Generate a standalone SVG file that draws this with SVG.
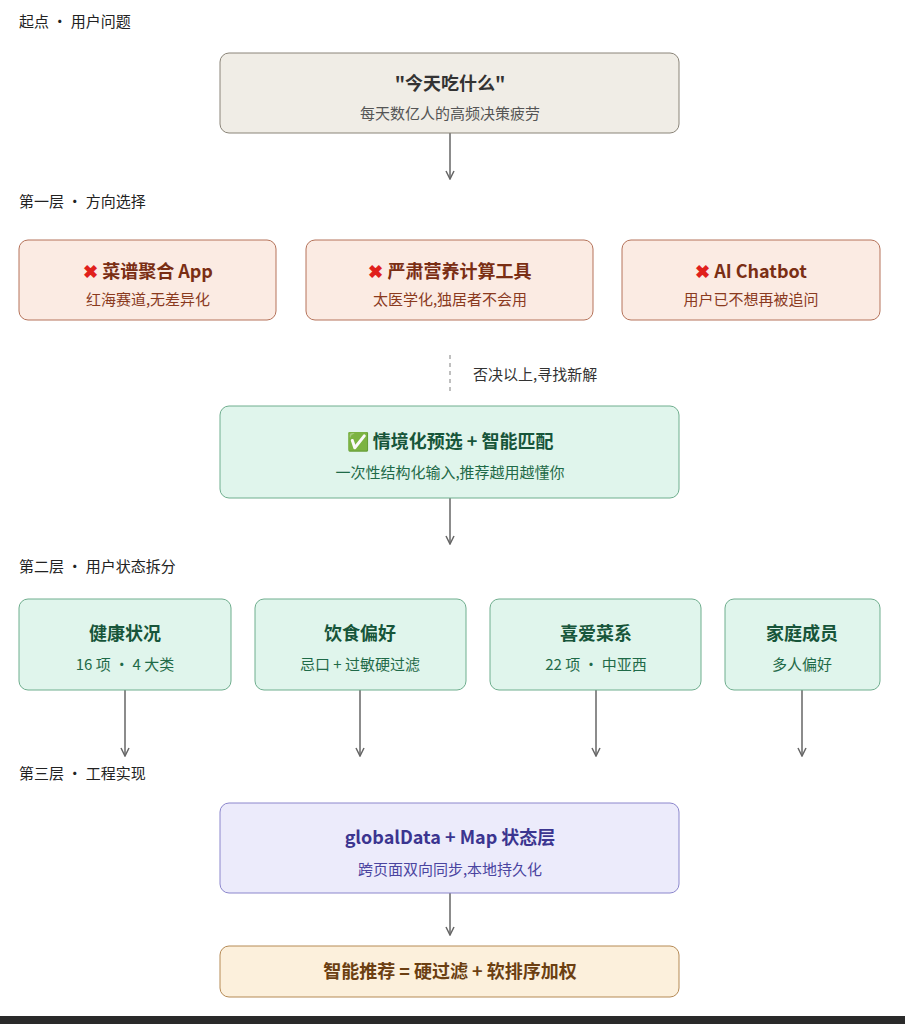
<svg xmlns="http://www.w3.org/2000/svg" width="905" height="1024" viewBox="0 0 905 1024">
<style>
text{font-family:"Noto Sans CJK SC","Noto Sans",sans-serif}
.sec{font-size:15px;fill:#222}
.t{font-size:18px;font-weight:bold;text-anchor:middle}
.s{font-size:15px;text-anchor:middle}
.gray rect{fill:#f0ede6;stroke:#8a8478}
.red rect{fill:#fbebe3;stroke:#b5735a}
.grn rect{fill:#e0f5ec;stroke:#6fae8e}
.pur rect{fill:#ecebfb;stroke:#8b86cc}
.org rect{fill:#fcf0dc;stroke:#b58a55}
.red .t{fill:#7a2e14}.red .s{fill:#8a3a1e}
.grn .t{fill:#17553a}.grn .s{fill:#1f6a48}
.pur .t{fill:#3b3590}.pur .s{fill:#4a44a0}
.org .t{fill:#6b3f12}
.x{fill:#e0201c}
#edges line{stroke:#666;stroke-width:1.5;marker-end:url(#a)}
</style>
<defs><marker id="a" viewBox="0 0 10 10" refX="9" refY="5" markerWidth="10" markerHeight="10" markerUnits="userSpaceOnUse" orient="auto"><path d="M1 1L9 5L1 9" fill="none" stroke="#666" stroke-width="1.5"/></marker></defs>
<rect width="905" height="1024" fill="#fff"/>
<text class="sec" x="19" y="27">起点 · 用户问题</text>
<text class="sec" x="19" y="207">第一层 · 方向选择</text>
<text class="sec" x="19" y="572">第二层 · 用户状态拆分</text>
<text class="sec" x="19" y="779">第三层 · 工程实现</text>
<g id="edges">
<line x1="450" y1="133" x2="450" y2="179"/>
<line x1="450" y1="355" x2="450" y2="395" stroke-dasharray="4 4" style="stroke:#aaa;marker-end:none"/>
<line x1="450" y1="498" x2="450" y2="544"/>
<line x1="125" y1="690" x2="125" y2="756"/>
<line x1="360" y1="690" x2="360" y2="756"/>
<line x1="596" y1="690" x2="596" y2="756"/>
<line x1="802" y1="690" x2="802" y2="756"/>
<line x1="450" y1="893" x2="450" y2="935"/>
<text x="473" y="380" font-size="15" fill="#333">否决以上,寻找新解</text>
</g>
<g id="start" class="gray"><rect x="220" y="53" width="459" height="80" rx="9"/><text class="t" x="450" y="90" fill="#333">"今天吃什么"</text><text class="s" x="450" y="119" fill="#555">每天数亿人的高频决策疲劳</text></g>
<g id="n1" class="red"><rect x="19" y="240" width="257" height="80" rx="9"/><text class="t" x="148" y="278"><tspan class="x">✖</tspan> 菜谱聚合 App</text><text class="s" x="148" y="305">红海赛道,无差异化</text></g>
<g id="n2" class="red"><rect x="306" y="240" width="287" height="80" rx="9"/><text class="t" x="450" y="278"><tspan class="x">✖</tspan> 严肃营养计算工具</text><text class="s" x="450" y="305">太医学化,独居者不会用</text></g>
<g id="n3" class="red"><rect x="622" y="240" width="258" height="80" rx="9"/><text class="t" x="751" y="278"><tspan class="x">✖</tspan> AI Chatbot</text><text class="s" x="751" y="305">用户已不想再被追问</text></g>
<g id="sol" class="grn"><rect x="220" y="406" width="459" height="92" rx="9"/><text class="t" x="450" y="448"><tspan fill="#2eaa3a">✅</tspan> 情境化预选 + 智能匹配</text><text class="s" x="450" y="478">一次性结构化输入,推荐越用越懂你</text></g>
<g id="h" class="grn"><rect x="19" y="599" width="212" height="91" rx="9"/><text class="t" x="125" y="640">健康状况</text><text class="s" x="125" y="670">16 项 · 4 大类</text></g>
<g id="d" class="grn"><rect x="255" y="599" width="211" height="91" rx="9"/><text class="t" x="360" y="640">饮食偏好</text><text class="s" x="360" y="670">忌口 + 过敏硬过滤</text></g>
<g id="c" class="grn"><rect x="490" y="599" width="211" height="91" rx="9"/><text class="t" x="596" y="640">喜爱菜系</text><text class="s" x="596" y="670">22 项 · 中亚西</text></g>
<g id="f" class="grn"><rect x="725" y="599" width="155" height="91" rx="9"/><text class="t" x="802" y="640">家庭成员</text><text class="s" x="802" y="670">多人偏好</text></g>
<g id="g" class="pur"><rect x="220" y="803" width="459" height="90" rx="9"/><text class="t" x="450" y="844">globalData + Map 状态层</text><text class="s" x="450" y="875">跨页面双向同步,本地持久化</text></g>
<g id="r" class="org"><rect x="220" y="946" width="459" height="51" rx="9"/><text class="t" x="450" y="978">智能推荐 = 硬过滤 + 软排序加权</text></g>
<rect x="0" y="1016" width="905" height="8" fill="#2a2a2a"/>
</svg>
